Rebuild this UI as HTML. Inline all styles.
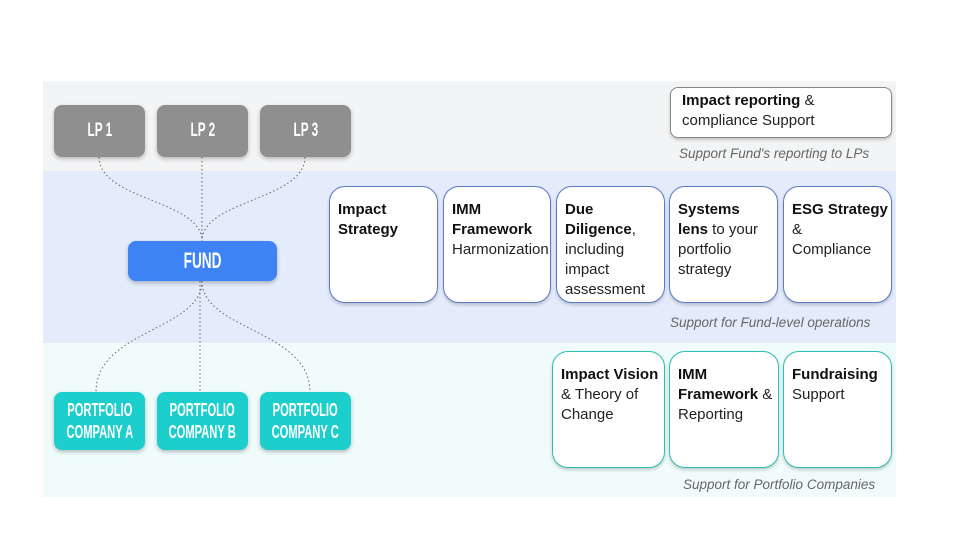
<!DOCTYPE html>
<html><head><meta charset="utf-8"><style>
body{margin:0;width:960px;height:540px;background:#fff;position:relative;overflow:hidden;font-family:"Liberation Sans",sans-serif}
.a{position:absolute;box-sizing:border-box}
.band{position:absolute;left:43px;width:853px}
.n{position:absolute;box-sizing:border-box;border-radius:8px;color:#fff;display:flex;align-items:center;justify-content:center;text-align:center;font-family:"Liberation Sans",sans-serif;font-weight:bold;font-size:19px;line-height:22px;box-shadow:0 2px 4px rgba(0,0,0,.25)}
.n span{display:inline-block;transform:scaleX(0.62);white-space:nowrap}
.lp{background:#8f8f8f;top:105px;height:52px;width:91px}
.pc{background:#1ccfcc;top:392px;height:58px;width:91px;font-size:18px}
.c{position:absolute;box-sizing:border-box;background:#fff;border-radius:16px;padding:13px 0 0 8px;font-size:15px;line-height:20px;color:#222;box-shadow:0 2px 3px rgba(0,0,0,.2);white-space:nowrap;overflow:hidden}
.m{top:186px;height:117px;border:1.5px solid #5b7cc4}
.p{top:351px;height:117px;border:1.5px solid #2cbfb3}
b{font-weight:bold;color:#111}
.cap{position:absolute;font-style:italic;font-size:13.5px;color:#666}
</style></head><body>
<div class="band" style="top:81px;height:90px;background:#f3f4f5"></div>
<div class="band" style="top:171px;height:172px;background:#e4ecfb"></div>
<div class="band" style="top:343px;height:154px;background:#effcfb"></div>
<svg class="a" style="left:0;top:0" width="960" height="540">
<g fill="none" stroke="#666" stroke-width="1" stroke-dasharray="1.5 2.5">
<path d="M99 157 C99 200 202 200 202 241"/>
<path d="M202 157 L202 241"/>
<path d="M305 157 C305 200 202 200 202 241"/>
<path d="M202 281 C202 330 96 330 96 392"/>
<path d="M200 281 L200 392"/>
<path d="M202 281 C202 330 310 330 310 392"/>
</g></svg>
<div class="n lp" style="left:54px"><span>LP 1</span></div>
<div class="n lp" style="left:157px"><span>LP 2</span></div>
<div class="n lp" style="left:260px"><span>LP 3</span></div>
<div class="n" style="left:128px;top:241px;width:149px;height:40px;background:#3d83f4;font-size:22px"><span>FUND</span></div>
<div class="n pc" style="left:54px"><span>PORTFOLIO<br>COMPANY A</span></div>
<div class="n pc" style="left:157px"><span>PORTFOLIO<br>COMPANY B</span></div>
<div class="n pc" style="left:260px"><span>PORTFOLIO<br>COMPANY C</span></div>
<div class="c" style="left:670px;top:87px;width:222px;height:51px;border:1.5px solid #888;border-radius:8px;padding:3px 0 0 11px"><b>Impact reporting</b> &amp;<br>compliance Support</div>
<div class="cap" style="left:679px;top:146px">Support Fund's reporting to LPs</div>
<div class="c m" style="left:329px;width:109px"><b>Impact<br>Strategy</b></div>
<div class="c m" style="left:443px;width:108px"><b>IMM<br>Framework</b><br>Harmonization</div>
<div class="c m" style="left:556px;width:109px"><b>Due<br>Diligence</b>,<br>including<br>impact<br>assessment</div>
<div class="c m" style="left:669px;width:109px"><b>Systems<br>lens</b> to your<br>portfolio<br>strategy</div>
<div class="c m" style="left:783px;width:109px"><b>ESG Strategy</b><br>&amp;<br>Compliance</div>
<div class="cap" style="left:670px;top:315px">Support for Fund-level operations</div>
<div class="c p" style="left:552px;width:113px"><b>Impact Vision</b><br>&amp; Theory of<br>Change</div>
<div class="c p" style="left:669px;width:110px"><b>IMM<br>Framework</b> &amp;<br>Reporting</div>
<div class="c p" style="left:783px;width:109px"><b>Fundraising</b><br>Support</div>
<div class="cap" style="left:683px;top:477px">Support for Portfolio Companies</div>
</body></html>
